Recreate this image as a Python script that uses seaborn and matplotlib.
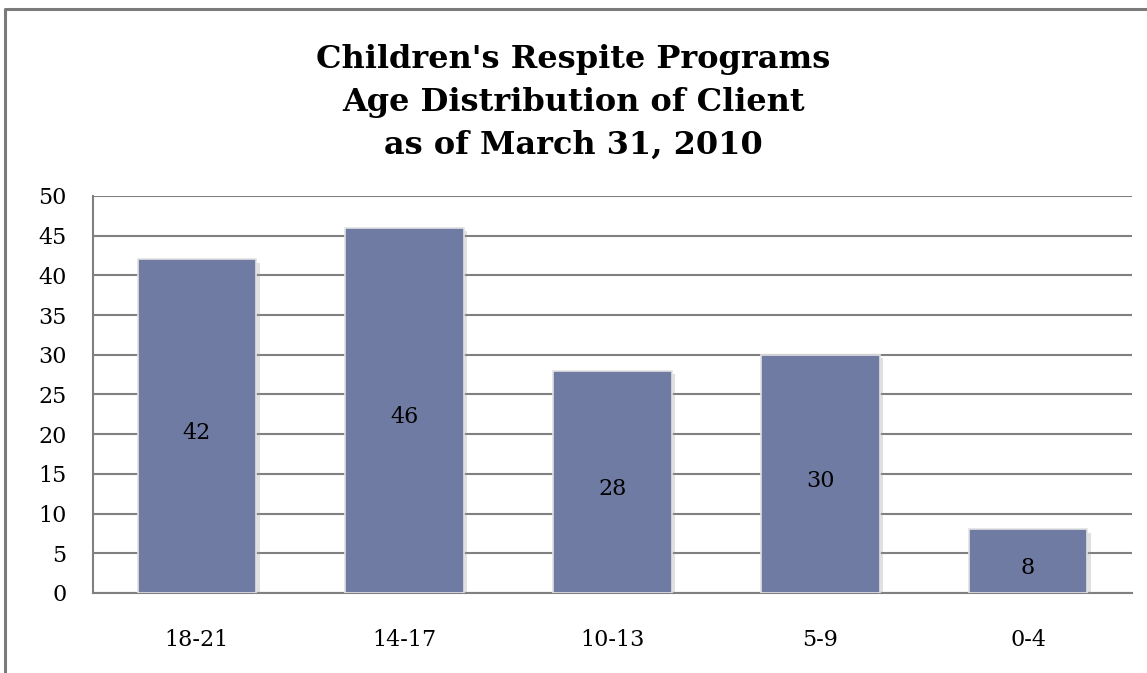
import matplotlib
matplotlib.use("Agg")
import matplotlib.pyplot as plt
import matplotlib.patheffects as pe
import seaborn as sns
import pandas as pd

# Client counts per age group
age_groups = ["18-21", "14-17", "10-13", "5-9", "0-4"]
clients = [42, 46, 28, 30, 8]
y_ticks = list(range(0, 51, 5))

title_lines = [
    "Children's Respite Programs",
    "Age Distribution of Client",
    "as of March 31, 2010",
]

sns.set_theme(style="white")
plt.rcParams["font.family"] = ["DejaVu Serif"]

BAR_COLOR = "#6F7BA3"
GRID_COLOR = "#808080"

fig = plt.figure(figsize=(11.47, 6.73), dpi=100)
ax = fig.add_axes([0.0811, 0.1189, 0.9058, 0.5899])

df = pd.DataFrame({"age": age_groups, "clients": clients})
sns.barplot(data=df, x="age", y="clients", order=age_groups, color=BAR_COLOR,
            saturation=1, width=0.57, ax=ax, zorder=3)

for patch in ax.patches:
    patch.set_edgecolor("#e2e2e2")
    patch.set_linewidth(1.2)
    patch.set_path_effects([
        pe.SimplePatchShadow(offset=(2.5, -2.5), shadow_rgbFace="#9a9a9a", alpha=0.3),
        pe.Normal(),
    ])

# value labels centred inside each bar
for i, v in enumerate(clients):
    ax.annotate(str(v), xy=(i, v / 2), xytext=(0, -5), textcoords="offset points",
                ha="center", va="center", fontsize=16, color="black", zorder=5)

ax.set_ylim(0, 50)
ax.set_yticks(y_ticks)
ax.set_xlim(-0.5, len(age_groups) - 0.5)
ax.set_xlabel("")
ax.set_ylabel("")
ax.yaxis.grid(True, color=GRID_COLOR, linewidth=1.5, zorder=1)
ax.set_axisbelow(True)
ax.tick_params(axis="both", length=0, labelsize=16, colors="black")
ax.tick_params(axis="y", pad=19)
ax.tick_params(axis="x", pad=26)
for side in ("top", "right"):
    ax.spines[side].set_visible(False)
for side in ("left", "bottom"):
    ax.spines[side].set_color(GRID_COLOR)
    ax.spines[side].set_linewidth(1.5)

fig.text(0.5, 0.935, "\n".join(title_lines), ha="center", va="top",
         fontsize=23, fontweight="bold", linespacing=1.5, color="black")

# chart frame (clipped at the right and bottom edges of the canvas)
W, H = 1147, 673
frame = plt.Line2D([4.5 / W, 4.5 / W, 1.0], [0.0, 1 - 8.5 / H, 1 - 8.5 / H],
                   transform=fig.transFigure, color="#7a7a7a", linewidth=2.2)
fig.add_artist(frame)

fig.savefig("out.png", dpi=100, facecolor="white")
